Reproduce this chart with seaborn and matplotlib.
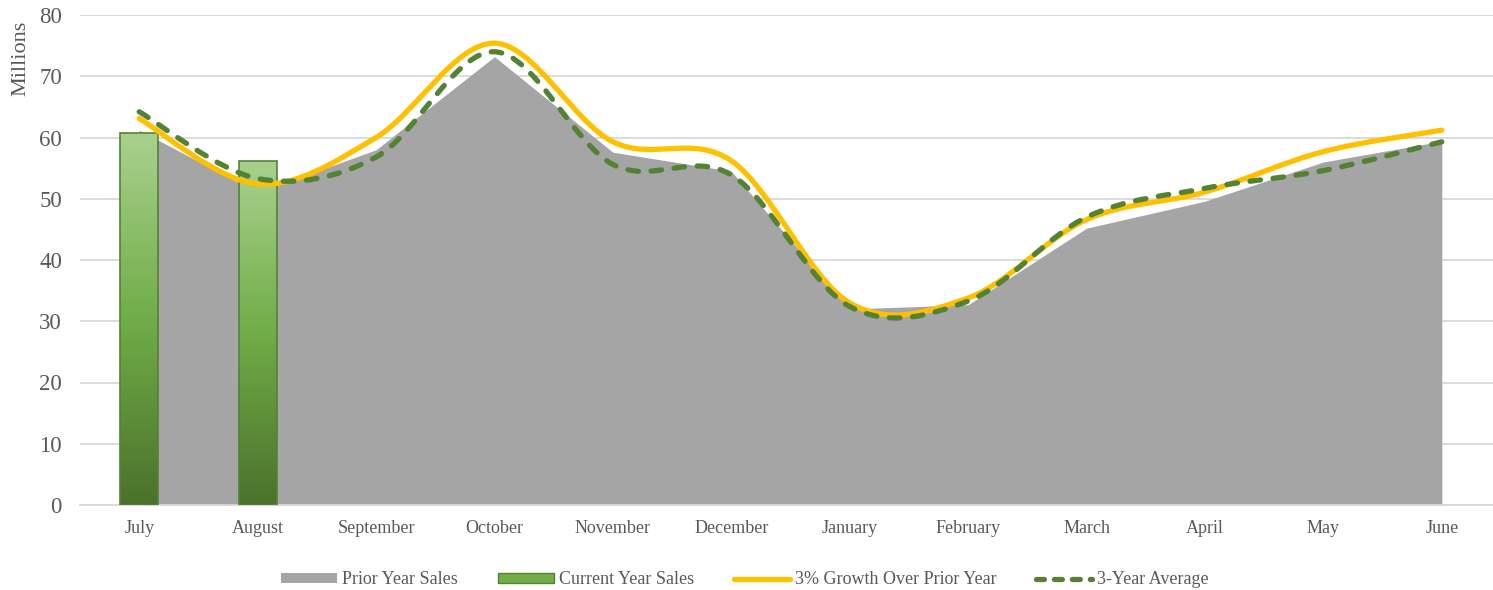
import matplotlib
matplotlib.use('Agg')
import matplotlib.pyplot as plt
import numpy as np
import seaborn as sns
from matplotlib.path import Path
from matplotlib.patches import PathPatch, Patch
from matplotlib.lines import Line2D
from matplotlib.colors import LinearSegmentedColormap

months = ['July', 'August', 'September', 'October', 'November', 'December',
          'January', 'February', 'March', 'April', 'May', 'June']
prior_year = [61.2, 51.0, 58.0, 73.2, 57.6, 54.5, 32.0, 32.7, 45.2, 49.6, 56.0, 59.4]
current_year = [60.7, 56.2]
growth_3pct = [63.1, 52.4, 60.0, 75.4, 59.3, 56.2, 33.0, 33.8, 46.6, 51.1, 57.7, 61.2]
avg_3yr = [64.2, 53.3, 56.8, 74.0, 55.6, 53.9, 32.4, 33.3, 47.0, 51.7, 54.6, 59.3]

sns.set_theme(style='white')
plt.rcParams['font.family'] = ['Liberation Serif', 'DejaVu Serif']

GRAY = '#A5A5A5'
GRID = '#D9D9D9'
TEXT = '#595959'
YELLOW = '#FFC000'
GREEN = '#548235'


def smooth_path(xs, ys):
    # Excel-style smoothed line: cubic bezier through every point
    pts = np.column_stack([xs, ys]).astype(float)
    ext = np.vstack([pts[0], pts, pts[-1]])
    verts = [pts[0]]
    codes = [Path.MOVETO]
    for i in range(len(pts) - 1):
        p0, p1, p2, p3 = ext[i], ext[i + 1], ext[i + 2], ext[i + 3]
        c1 = p1 + (p2 - p0) / 6
        c2 = p2 - (p3 - p1) / 6
        verts += [c1, c2, p2]
        codes += [Path.CURVE4] * 3
    return Path(verts, codes)


fig = plt.figure(figsize=(14.93, 5.90), dpi=100)
ax = fig.add_axes([80 / 1493, 1 - 505 / 590, 1421 / 1493, 490 / 590])

x = np.arange(len(months))

# prior year as area
ax.fill_between(x, prior_year, 0, color=GRAY, lw=0, zorder=2)

# current year bars with vertical gradient
cmap = LinearSegmentedColormap.from_list('g', ['#4B722B', '#70AD47', '#A9D18E'])
grad = np.linspace(0, 1, 256).reshape(-1, 1)
bw = 0.32
bars = ax.bar(x[:len(current_year)], current_year, width=bw, color='none',
              edgecolor=GREEN, linewidth=1.2, zorder=4)
for b in bars:
    bx, by = b.get_x(), b.get_y()
    im = ax.imshow(grad, cmap=cmap, origin='lower', aspect='auto',
                   extent=[bx, bx + b.get_width(), by, by + b.get_height()], zorder=3)
    im.set_clip_path(b)

# smoothed lines
dash = (0, (2.0, 2.4))
ax.add_patch(PathPatch(smooth_path(x, growth_3pct), fill=False, edgecolor=YELLOW,
                       lw=3.8, capstyle='round', joinstyle='round', zorder=5))
ax.add_patch(PathPatch(smooth_path(x, avg_3yr), fill=False, edgecolor=GREEN,
                       lw=3.8, linestyle=dash, capstyle='round', zorder=6))

ax.set_xlim(-0.5, 11.5)
ax.set_ylim(0, 80)
ax.set_yticks(range(0, 81, 10))
ax.set_xticks(x)
ax.set_xticklabels(months)
ax.yaxis.grid(True, color=GRID, lw=1.3, zorder=0)
ax.set_axisbelow(True)
for s in ['top', 'right', 'left']:
    ax.spines[s].set_visible(False)
ax.spines['bottom'].set_color(GRID)
ax.spines['bottom'].set_linewidth(1.3)
ax.tick_params(axis='y', labelsize=16.5, labelcolor=TEXT, length=0, pad=13)
ax.tick_params(axis='x', labelsize=13, labelcolor=TEXT, length=0, pad=10.5)

fig.text(21 / 1493, 1 - 58 / 590, 'Millions', rotation=90, ha='center', va='center',
         fontsize=16, color=TEXT)

handles = [
    Patch(facecolor=GRAY, edgecolor='none'),
    Patch(facecolor='#70AD47', edgecolor=GREEN),
    Line2D([], [], color=YELLOW, lw=3.8, solid_capstyle='round'),
    Line2D([], [], color=GREEN, lw=3.8, linestyle=(0, (1.5, 1.9)), dash_capstyle='round'),
]
labels = ['Prior Year Sales', 'Current Year Sales', '3% Growth Over Prior Year', '3-Year Average']
fig.legend(handles, labels, loc='center', bbox_to_anchor=(745 / 1493, 1 - 580 / 590), ncol=4,
           frameon=False, fontsize=13, labelcolor=TEXT, handlelength=3.1, handleheight=0.5,
           columnspacing=2.2, handletextpad=0.28)

fig.savefig('out.png', dpi=100)
